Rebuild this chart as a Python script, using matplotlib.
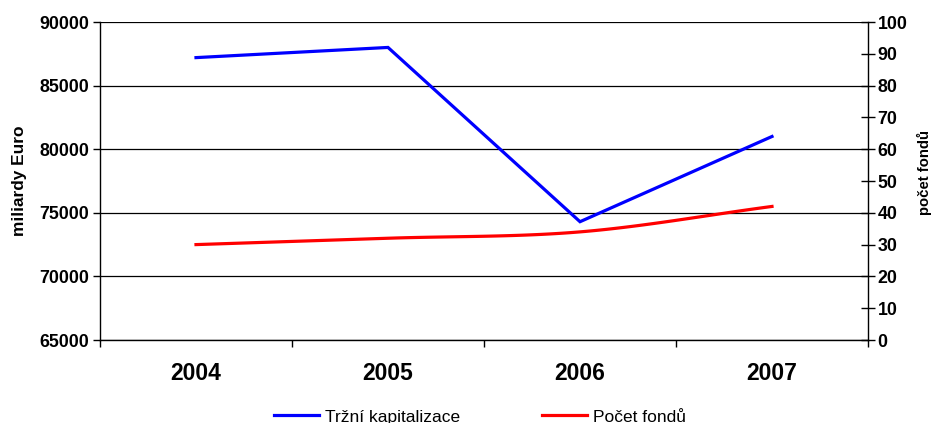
import numpy as np
import matplotlib
matplotlib.use("Agg")
import matplotlib.pyplot as plt
from matplotlib.ticker import MultipleLocator

plt.rcParams['font.family'] = ['Liberation Sans', 'DejaVu Sans']

years = ["2004", "2005", "2006", "2007"]
market_cap = [87200, 88000, 74300, 81000]
fund_count = [30, 32, 34, 42]

left_label = "miliardy Euro"
right_label = "počet fondů"
series_names = ["Tržní kapitalizace", "Počet fondů"]


def catmull_rom(x, y, n=40):
    x = np.asarray(x, float)
    y = np.asarray(y, float)
    px = np.concatenate([[2 * x[0] - x[1]], x, [2 * x[-1] - x[-2]]])
    py = np.concatenate([[2 * y[0] - y[1]], y, [2 * y[-1] - y[-2]]])
    xs, ys = [], []
    for i in range(1, len(px) - 2):
        t = np.linspace(0, 1, n)
        for arr, out in ((px, xs), (py, ys)):
            p0, p1, p2, p3 = arr[i - 1], arr[i], arr[i + 1], arr[i + 2]
            out.append(0.5 * ((2 * p1) + (-p0 + p2) * t +
                              (2 * p0 - 5 * p1 + 4 * p2 - p3) * t ** 2 +
                              (-p0 + 3 * p1 - 3 * p2 + p3) * t ** 3))
    return np.concatenate(xs), np.concatenate(ys)


W, H = 937, 423
fig = plt.figure(figsize=(W / 100, H / 100), dpi=100)
ax = fig.add_axes([100 / W, (H - 340) / H, 768 / W, 318 / H])
ax2 = ax.twinx()

x = np.arange(len(years))
l1, = ax.plot(x, market_cap, color='#0000FF', lw=2.3, solid_joinstyle='miter')
sx, sy = catmull_rom(x, fund_count)
l2, = ax2.plot(sx, sy, color='#FF0000', lw=2.3)

ax.set_xlim(-0.5, 3.5)
ax.set_ylim(65000, 90000)
ax2.set_ylim(0, 100)
ax.yaxis.set_major_locator(MultipleLocator(5000))
ax2.yaxis.set_major_locator(MultipleLocator(10))

ax.set_xticks(x)
ax.set_xticklabels(years, fontsize=16.5, fontweight='bold')
ax.set_xticks(np.arange(-0.5, 3.6, 1), minor=True)
ax.tick_params(axis='x', which='major', length=0, pad=16)
ax.tick_params(axis='x', which='minor', length=5, direction='out', width=1)
ax.tick_params(axis='y', length=5, direction='out', width=1, labelsize=12.8, pad=3)
ax2.tick_params(axis='y', length=10, direction='inout', width=1, labelsize=12.8, pad=2)
for lab in ax.get_yticklabels() + ax2.get_yticklabels():
    lab.set_fontweight('bold')

ax.grid(axis='y', color='#000000', lw=0.9)
ax.set_axisbelow(True)
for a in (ax, ax2):
    a.spines['top'].set_visible(False)
ax.spines['right'].set_visible(False)
ax2.spines['left'].set_visible(False)
ax2.spines['bottom'].set_visible(False)
for s in ('left', 'bottom'):
    ax.spines[s].set_linewidth(1)
ax2.spines['right'].set_linewidth(1)

ax.set_ylabel(left_label, fontsize=12.4, fontweight='bold')
ax.yaxis.set_label_coords((27 - 100) / 768, 0.5)
ax2.set_ylabel(right_label, fontsize=10.7, fontweight='bold', rotation=90)
ax2.yaxis.set_label_coords((917 - 100) / 768, (340 - 172.5) / 318)

fig.legend([l1, l2], series_names, loc='center', ncol=2,
           bbox_to_anchor=(480 / W, 6 / H), frameon=False, fontsize=12.5,
           handlelength=2.6, handletextpad=0.3, columnspacing=4.75)

fig.savefig("out.png", dpi=100)
